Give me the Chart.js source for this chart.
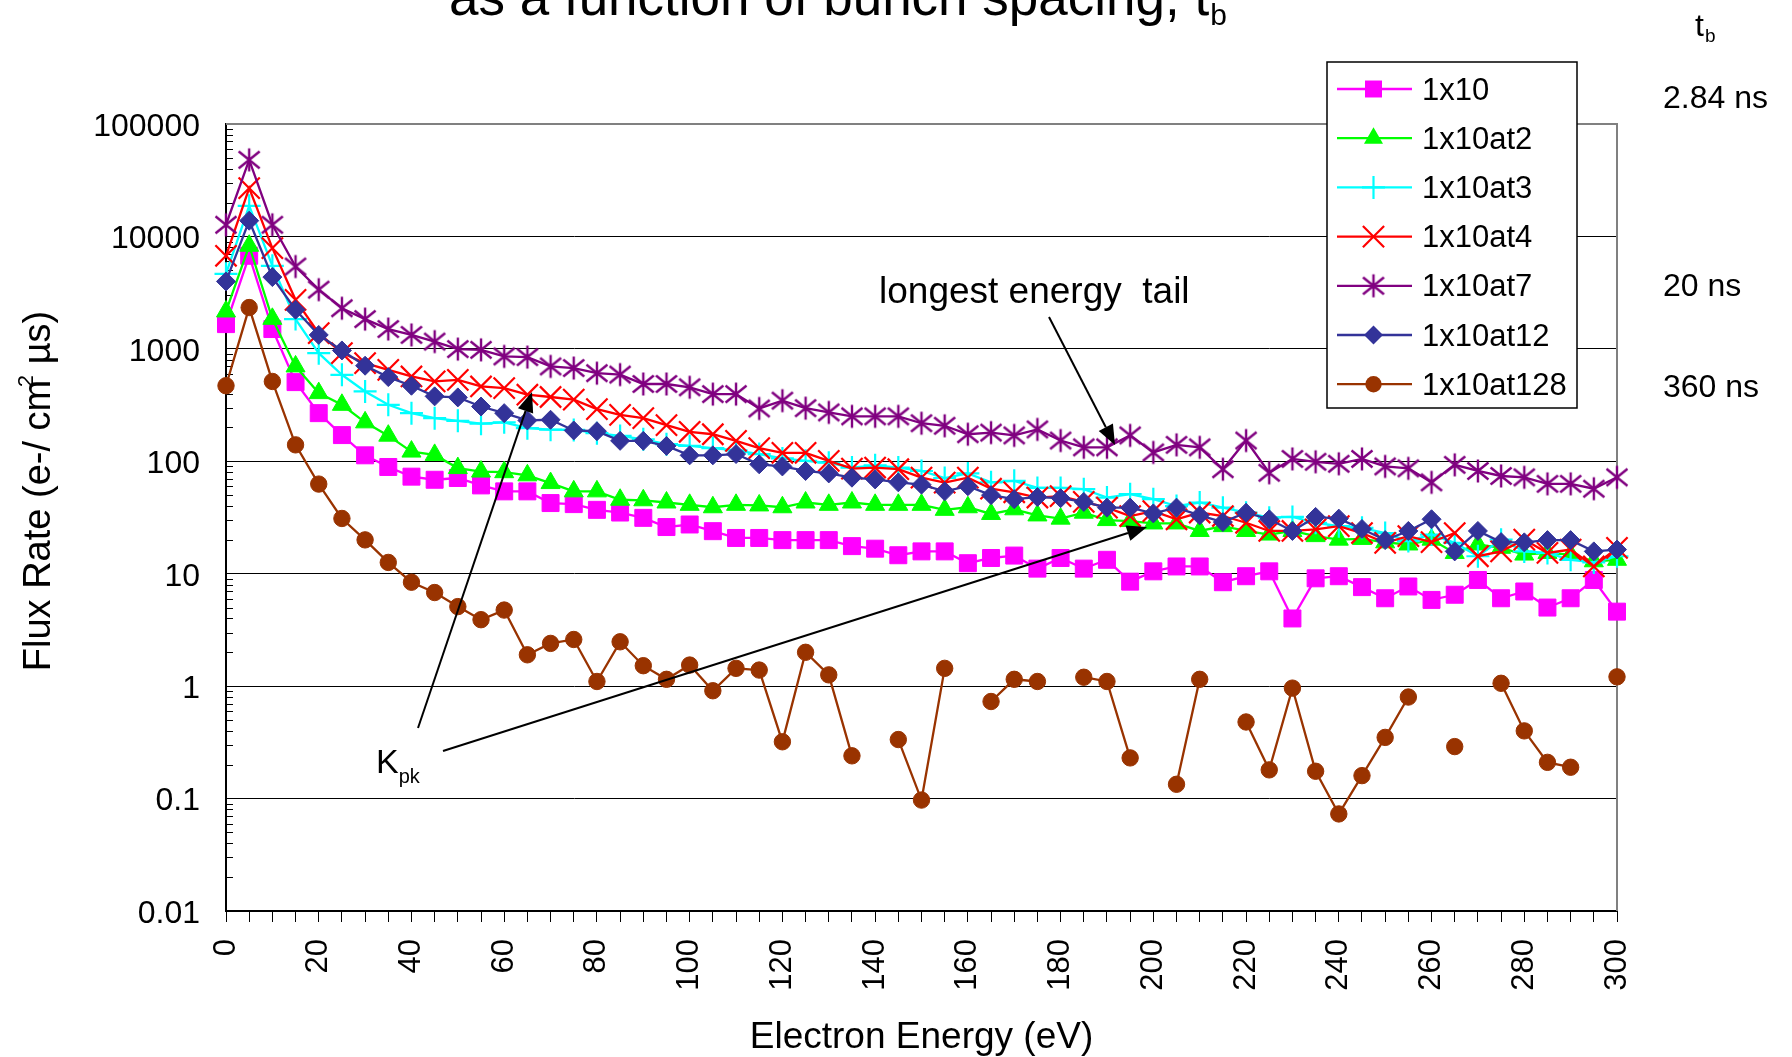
<!DOCTYPE html>
<html>
<head>
<meta charset="utf-8">
<script src="https://cdn.jsdelivr.net/npm/chart.js@4.4.1/dist/chart.umd.min.js"></script>
<style>
  html, body { margin: 0; padding: 0; background: #fff; overflow: hidden; }
  canvas { display: block; }
</style>
</head>
<body>
<canvas id="c" width="1792" height="1057"></canvas>
<script>
// Electron energy (eV) sample points
const energies = [0, 5, 10, 15, 20, 25, 30, 35, 40, 45,
  50, 55, 60, 65, 70, 75, 80, 85, 90, 95,
  100, 105, 110, 115, 120, 125, 130, 135, 140, 145,
  150, 155, 160, 165, 170, 175, 180, 185, 190, 195,
  200, 205, 210, 215, 220, 225, 230, 235, 240, 245,
  250, 255, 260, 265, 270, 275, 280, 285, 290, 295,
  300];

// Flux rate, e-/(cm^2 us), one list per bunch pattern
const flux1x10 = [1660, 6730, 1500, 506, 268, 171, 113, 89, 73, 68.5,
  71, 61, 54, 54, 42.5, 41.6, 37, 35, 31.4, 26,
  27.4, 23.9, 20.8, 20.8, 19.9, 19.9, 19.9, 17.6, 16.7, 14.6,
  15.8, 15.8, 12.4, 13.8, 14.5, 11.1, 13.8, 11.1, 13.3, 8.5,
  10.5, 11.6, 11.6, 8.4, 9.5, 10.5, 4.0, 9.1, 9.5, 7.6,
  6.05, 7.7, 5.85, 6.5, 8.8, 6.05, 6.95, 5.0, 6.05, 8.8,
  4.6];
const flux1x10at2 = [2150, 8260, 1850, 698, 404, 318, 222, 169, 122, 114,
  87, 81, 80, 75, 64, 54, 54, 45.5, 45, 43,
  41, 39, 41, 40.5, 39, 43, 41, 43, 41, 41,
  41, 37, 39, 34, 37.4, 33, 30.9, 34.9, 30, 29.4,
  28, 28, 24, 26.5, 24, 22.3, 24, 21.6, 20.1, 20.4,
  19, 18.2, 20.1, 15.3, 18.2, 17, 14.8, 15.3, 14.8, 12.9,
  13.3];
const flux1x10at3 = [4650, 18700, 5480, 1840, 916, 588, 418, 318, 268, 242,
  229, 216, 222, 197, 191, 190, 178, 168, 157, 142,
  137, 131, 125, 116, 106, 101, 97, 88, 92, 88,
  82, 71, 78, 65, 67, 58, 58, 56.5, 47.6, 51,
  46, 40, 43, 38.7, 34.9, 31.5, 32, 28.4, 26.5, 25.6,
  23, 19.5, 22.3, 18.8, 14.3, 20.1, 15.8, 15.3, 13.3, 12.6,
  14.3];
const flux1x10at4 = [6730, 26900, 7870, 2730, 1380, 917, 746, 651, 568, 513,
  530, 463, 448, 391, 373, 353, 291, 259, 242, 210,
  183, 174, 152, 131, 119, 119, 101, 86, 88, 85,
  71.5, 64.5, 71.5, 57, 53, 47.6, 49, 43.5, 38.7, 32.6,
  36, 30.5, 35, 32.6, 28.4, 24, 24, 24.8, 26.5, 23,
  18.8, 21.6, 19.1, 23, 14.3, 15.8, 20.1, 15.3, 16.4, 11.6,
  17];
const flux1x10at7 = [12700, 48000, 12700, 5400, 3360, 2300, 1840, 1500, 1330, 1160,
  995, 980, 857, 845, 698, 675, 608, 590, 487, 487,
  455, 396, 396, 295, 346, 297, 272, 251, 251, 251,
  218, 207, 174, 180, 170, 192, 153, 133, 133, 170,
  120, 140, 133, 85, 153, 79, 105, 99, 95, 105,
  90, 86.5, 65, 93, 82, 74, 72, 63, 63, 57,
  72];
const flux1x10at12 = [3980, 13800, 4350, 2230, 1330, 968, 708, 561, 470, 378,
  370, 307, 268, 231, 234, 188, 185, 152, 152, 137,
  113, 113, 116, 94, 90, 82, 78, 71.5, 69, 65,
  62, 54, 60, 50, 46, 48, 47, 43.5, 38.7, 38.7,
  34.4, 38.7, 33, 28.8, 34.9, 30.5, 24, 32, 30.9, 25,
  19.9, 24, 30.5, 15.8, 24, 19.1, 19, 19.9, 19.9, 15.8,
  16.4];
// null = no counts in that bin (cannot be shown on a log axis)
const flux1x10at128 = [470, 2330, 513, 140, 62.7, 31, 20, 12.6, 8.4, 6.8,
  5.1, 3.9, 4.75, 1.9, 2.4, 2.6, 1.1, 2.48, 1.52, 1.15,
  1.54, 0.91, 1.44, 1.39, 0.32, 2.0, 1.26, 0.24, null, 0.335,
  0.097, 1.44, null, 0.73, 1.15, 1.1, null, 1.2, 1.1, 0.23,
  null, 0.134, 1.15, null, 0.48, 0.18, 0.96, 0.175, 0.073, 0.16,
  0.35, 0.80, null, 0.29, null, 1.06, 0.40, 0.21, 0.19, null,
  1.21];

const seriesNames = ['1x10', '1x10at2', '1x10at3', '1x10at4', '1x10at7', '1x10at12', '1x10at128'];
const seriesValues = [flux1x10, flux1x10at2, flux1x10at3, flux1x10at4, flux1x10at7, flux1x10at12, flux1x10at128];

const yTickValues = [0.01, 0.1, 1, 10, 100, 1000, 10000, 100000];
const yTickLabels = ['0.01', '0.1', '1', '10', '100', '1000', '10000', '100000'];
const xTickLabels = [0, 20, 40, 60, 80, 100, 120, 140, 160, 180, 200, 220, 240, 260, 280, 300];

const FONT = '"Liberation Sans", Arial, Helvetica, sans-serif';

// six-armed asterisk marker (vertical bar plus an X)
function makeAsterisk(color) {
  const cv = document.createElement('canvas');
  cv.width = 26; cv.height = 26;
  const g = cv.getContext('2d');
  g.strokeStyle = color; g.lineWidth = 2.4;
  g.beginPath();
  g.moveTo(13, 1.5); g.lineTo(13, 24.5);
  g.moveTo(2.5, 4.5); g.lineTo(23.5, 21.5);
  g.moveTo(2.5, 21.5); g.lineTo(23.5, 4.5);
  g.stroke();
  return cv;
}

const styles = [
  { color: '#FF00FF', pointStyle: 'rect', radius: 12, bw: 1 },
  { color: '#00FF00', pointStyle: 'triangle', radius: 11, bw: 1 },
  { color: '#00FFFF', pointStyle: 'cross', radius: 11.5, bw: 2.2 },
  { color: '#FF0000', pointStyle: 'crossRot', radius: 15, bw: 2.2 },
  { color: '#800080', pointStyle: makeAsterisk('#800080'), radius: 12, bw: 2 },
  { color: '#333399', pointStyle: 'rectRot', radius: 9.5, bw: 1 },
  { color: '#993300', pointStyle: 'circle', radius: 8.2, bw: 1 }
];

const datasets = seriesNames.map((name, i) => ({
  label: name,
  data: energies.map((e, k) => ({ x: e, y: seriesValues[i][k] })),
  borderColor: styles[i].color,
  backgroundColor: styles[i].color,
  borderWidth: 2.3,
  pointStyle: styles[i].pointStyle,
  pointRadius: styles[i].radius,
  pointBorderWidth: styles[i].bw,
  pointBorderColor: styles[i].color,
  pointBackgroundColor: styles[i].color,
  tension: 0,
  spanGaps: false,
  clip: false,
  order: seriesNames.length - 1 - i
}));

function drawArrow(ctx, x1, y1, x2, y2) {
  const ang = Math.atan2(y2 - y1, x2 - x1);
  const L = 20, W = 8;
  const bx = x2 - L * Math.cos(ang), by = y2 - L * Math.sin(ang);
  ctx.strokeStyle = '#000'; ctx.fillStyle = '#000'; ctx.lineWidth = 2;
  ctx.beginPath(); ctx.moveTo(x1, y1); ctx.lineTo(bx, by); ctx.stroke();
  ctx.beginPath();
  ctx.moveTo(x2, y2);
  ctx.lineTo(bx + W * Math.sin(ang), by - W * Math.cos(ang));
  ctx.lineTo(bx - W * Math.sin(ang), by + W * Math.cos(ang));
  ctx.closePath(); ctx.fill();
}

function drawMarker(ctx, st, x, y) {
  const r = st.radius;
  ctx.fillStyle = st.color; ctx.strokeStyle = st.color; ctx.lineWidth = st.bw;
  ctx.beginPath();
  switch (st.pointStyle) {
    case 'rect': { const s = r * Math.SQRT1_2; ctx.rect(x - s, y - s, 2 * s, 2 * s); ctx.fill(); break; }
    case 'triangle': {
      ctx.moveTo(x, y - r);
      ctx.lineTo(x + r * Math.sin(2 * Math.PI / 3), y - r * Math.cos(2 * Math.PI / 3));
      ctx.lineTo(x + r * Math.sin(4 * Math.PI / 3), y - r * Math.cos(4 * Math.PI / 3));
      ctx.closePath(); ctx.fill(); break;
    }
    case 'cross': ctx.moveTo(x - r, y); ctx.lineTo(x + r, y); ctx.moveTo(x, y - r); ctx.lineTo(x, y + r); ctx.stroke(); break;
    case 'crossRot': { const s = r * Math.SQRT1_2; ctx.moveTo(x - s, y - s); ctx.lineTo(x + s, y + s); ctx.moveTo(x - s, y + s); ctx.lineTo(x + s, y - s); ctx.stroke(); break; }
    case 'rectRot': ctx.moveTo(x, y - r); ctx.lineTo(x + r, y); ctx.lineTo(x, y + r); ctx.lineTo(x - r, y); ctx.closePath(); ctx.fill(); break;
    case 'circle': ctx.arc(x, y, r, 0, Math.PI * 2); ctx.fill(); break;
    default: {
      const im = st.pointStyle;
      ctx.drawImage(im, x - im.width / 2, y - im.height / 2);
    }
  }
}

const decor = {
  id: 'decor',
  beforeDatasetsDraw(chart) {
    const { ctx, chartArea: a, scales: { y } } = chart;
    ctx.save();
    // top and right frame of the plot area
    ctx.strokeStyle = '#808080'; ctx.lineWidth = 2;
    ctx.beginPath();
    ctx.moveTo(a.left, a.top); ctx.lineTo(a.right, a.top); ctx.lineTo(a.right, a.bottom);
    ctx.stroke();
    // minor log ticks along the inside of the y axis
    ctx.strokeStyle = '#000'; ctx.lineWidth = 1;
    ctx.beginPath();
    for (let d = -2; d < 5; d++) {
      for (let k = 2; k < 10; k++) {
        const py = Math.round(y.getPixelForValue(k * Math.pow(10, d))) + 0.5;
        ctx.moveTo(a.left, py); ctx.lineTo(a.left + 7, py);
      }
    }
    ctx.stroke();
    ctx.restore();
  },
  afterDatasetsDraw(chart) {
    const ctx = chart.ctx;
    ctx.save();
    // annotations
    ctx.fillStyle = '#000';
    ctx.textBaseline = 'alphabetic'; ctx.textAlign = 'left';
    ctx.font = '37px ' + FONT;
    ctx.fillText('longest energy  tail', 879, 303);
    drawArrow(ctx, 1049, 317, 1115, 445);
    ctx.font = '34px ' + FONT;
    ctx.fillText('K', 376, 773);
    const kw = ctx.measureText('K').width;
    ctx.font = '20px ' + FONT;
    ctx.fillText('pk', 376 + kw, 783);
    drawArrow(ctx, 418, 728, 532, 392);
    drawArrow(ctx, 443, 751, 1147, 527);

    // legend box
    const lx = 1327, ly = 62, lw = 250, lh = 346;
    ctx.fillStyle = '#fff'; ctx.fillRect(lx, ly, lw, lh);
    ctx.strokeStyle = '#000'; ctx.lineWidth = 1.5;
    ctx.strokeRect(lx, ly, lw, lh);
    seriesNames.forEach((name, i) => {
      const ry = 89 + i * 49.2;
      const st = styles[i];
      ctx.strokeStyle = st.color; ctx.lineWidth = 2.3;
      ctx.beginPath(); ctx.moveTo(1337, ry); ctx.lineTo(1412, ry); ctx.stroke();
      drawMarker(ctx, st, 1373.5, ry);
      ctx.fillStyle = '#000';
      ctx.font = '31px ' + FONT;
      ctx.textBaseline = 'middle';
      ctx.fillText(name, 1422, ry + 2);
    });
    ctx.restore();
  },
  afterDraw(chart) {
    const ctx = chart.ctx;
    ctx.save();
    ctx.fillStyle = '#000';
    ctx.textBaseline = 'alphabetic';
    // title line (upper part runs off the top)
    ctx.textAlign = 'left';
    ctx.font = '53px ' + FONT;
    const t1 = 'as a function of bunch spacing, t';
    ctx.fillText(t1, 449, 15);
    const tw = ctx.measureText(t1).width;
    ctx.font = '30px ' + FONT;
    ctx.fillText('b', 449 + tw + 1, 25);

    // bunch spacing labels on the right
    ctx.font = '32px ' + FONT;
    ctx.fillText('t', 1695, 36);
    ctx.font = '19px ' + FONT;
    ctx.fillText('b', 1705, 42);
    ctx.font = '32px ' + FONT;
    ctx.fillText('2.84 ns', 1663, 108);
    ctx.fillText('20 ns', 1663, 296);
    ctx.fillText('360 ns', 1663, 397);

    // x axis title
    ctx.textAlign = 'center';
    ctx.font = '37px ' + FONT;
    const a = chart.chartArea;
    ctx.fillText('Electron Energy (eV)', (a.left + a.right) / 2, 1048);

    // y axis title, rotated, with superscript 2
    ctx.save();
    ctx.translate(50, 491);
    ctx.rotate(-Math.PI / 2);
    ctx.textAlign = 'left';
    const pa = 'Flux Rate (e-/ cm', pb = ' \u00B5s)';
    ctx.font = '38px ' + FONT;
    const wa = ctx.measureText(pa).width, wb = ctx.measureText(pb).width;
    ctx.font = '22px ' + FONT;
    const ws = ctx.measureText('2').width;
    const x0 = -(wa + ws * 0.4 + wb) / 2;
    ctx.font = '38px ' + FONT;
    ctx.fillText(pa, x0, 0);
    ctx.font = '22px ' + FONT;
    ctx.fillText('2', x0 + wa - ws * 0.6, -17);
    ctx.font = '38px ' + FONT;
    ctx.fillText(pb, x0 + wa + ws * 0.4, 0);
    ctx.restore();
    ctx.restore();
  }
};

new Chart(document.getElementById('c').getContext('2d'), {
  type: 'line',
  data: { datasets },
  options: {
    responsive: false,
    animation: false,
    devicePixelRatio: 1,
    events: [],
    layout: { padding: { left: 0, top: 124, right: 175, bottom: 0 } },
    plugins: { legend: { display: false }, tooltip: { enabled: false }, title: { display: false } },
    scales: {
      x: {
        type: 'linear', position: 'bottom', min: 0, max: 300,
        afterFit: s => { s.height = 146; },
        afterBuildTicks: s => { s.ticks = energies.map(v => ({ value: v })); },
        ticks: {
          autoSkip: false, minRotation: 90, maxRotation: 90, padding: 17,
          color: '#000', font: { family: FONT, size: 31 },
          callback: v => (xTickLabels.includes(v) ? String(v) : '')
        },
        grid: { drawOnChartArea: false, drawTicks: true, tickLength: 11, color: '#000', lineWidth: 1 },
        border: { color: '#000', width: 2 }
      },
      y: {
        type: 'logarithmic', position: 'left', min: 0.01, max: 100000,
        afterFit: s => { s.width = 226; },
        afterBuildTicks: s => { s.ticks = yTickValues.map(v => ({ value: v })); },
        ticks: {
          padding: 26, labelOffset: 3, color: '#000', font: { family: FONT, size: 32 },
          callback: (v, idx) => yTickLabels[idx]
        },
        grid: {
          drawTicks: false,
          color: c => (c.tick && c.tick.value === 100000 ? '#808080' : '#000'),
          lineWidth: c => (c.tick && c.tick.value === 100000 ? 2 : 1)
        },
        border: { color: '#000', width: 2 }
      }
    }
  },
  plugins: [decor]
});
</script>
</body>
</html>
